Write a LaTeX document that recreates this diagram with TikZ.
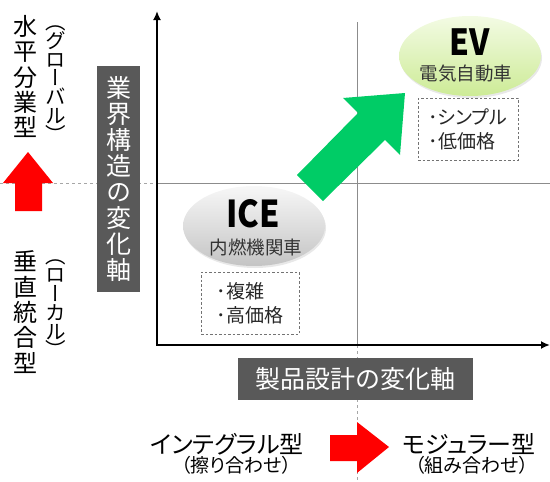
\documentclass[tikz,border=0pt]{standalone}
\usepackage{fontspec}
\setmainfont{Noto Sans CJK JP}
\newfontfamily\vertfont[RawFeature=+vert]{Noto Sans CJK JP}
\newfontfamily\propfont[RawFeature=+palt]{Noto Sans CJK JP}
\newfontfamily\titlefont[FakeStretch=0.88]{Noto Sans CJK JP}
\usetikzlibrary{shapes.geometric,shadows,arrows.meta}
\definecolor{boxgray}{HTML}{595959}
\definecolor{shiftred}{HTML}{FF0000}
\definecolor{shiftgreen}{HTML}{00CC66}
\definecolor{icetop}{HTML}{F7F7F7}
\definecolor{icebot}{HTML}{C4C4C4}
\definecolor{evtop}{HTML}{F3FBE4}
\definecolor{evbot}{HTML}{CDEB96}
\begin{document}
\begin{tikzpicture}[x=1pt,y=-1pt]
        \tikzstyle{axislabel}=[fill=boxgray,text=white,inner sep=0pt]
        \tikzstyle{model}=[ellipse,minimum width=142pt,minimum height=80pt,inner sep=0pt,
          drop shadow={opacity=0.18,shadow xshift=1pt,shadow yshift=-2pt}]
        \tikzstyle{feature}=[draw=black!55,dash pattern=on 2.5pt off 2pt,line width=0.6pt,
          minimum width=98pt,minimum height=62pt,align=left,text=black!85,
          font=\fontsize{19}{24}\selectfont]
        \tikzstyle{guide}=[draw=black!45,line width=0.7pt]
        \tikzstyle{guidedash}=[draw=black!35,line width=0.7pt,dash pattern=on 3pt off 3pt]
        \tikzstyle{axis}=[draw,line width=1.8pt,{Latex[length=9pt,width=8pt]}-{Latex[length=9pt,width=8pt]}]
        \tikzstyle{vtext}=[inner sep=0pt,align=center]
        \tikzstyle{htext}=[inner sep=0pt,font=\propfont\fontsize{24}{24}\selectfont]
        \tikzstyle{hsub}=[inner sep=0pt,font=\propfont\fontsize{19}{19}\selectfont]
        \useasboundingbox (0,0) rectangle (550,482);

        % guide lines of the quadrants
        \coordinate (vtop) at (357,22);
        \coordinate (vmid) at (357,345);
        \coordinate (vbot) at (357,482);
        \coordinate (hleft) at (0,183);
        \coordinate (hmid) at (157,183);
        \coordinate (hright) at (550,183);
        \path[guide] (vtop) -- (vmid);
        \path[guidedash] (vmid) -- (vbot);
        \path[guide] (hmid) -- (hright);
        \path[guidedash] (hleft) -- (hmid);

        % axes
        \coordinate (origin) at (157,345);
        \coordinate (ytop) at (157,11);
        \coordinate (xend) at (550,345);
        \path[axis] (ytop) -- (origin) -- (xend);

        % axis labels
        \node [axislabel,minimum width=43pt,minimum height=226pt,
          font=\vertfont\fontsize{25}{26}\selectfont,align=center] (structure) at (118.5,179)
          {業\\界\\構\\造\\の\\変\\化\\軸};
        \node [axislabel,minimum width=235pt,minimum height=42pt,
          font=\fontsize{25}{25}\selectfont] (design) at (355.5,379) {製品設計の変化軸};

        % vertical side texts
        \node [vtext,font=\vertfont\fontsize{24}{25.4}\selectfont] (horizontal) at (25,76.5)
          {水\\平\\分\\業\\型};
        \node [vtext,font=\vertfont\fontsize{20.5}{18.8}\selectfont] (global) at (56,84)
          {（\\グ\\ロ\\ー\\バ\\ル\\）};
        \node [vtext,font=\vertfont\fontsize{24}{25.4}\selectfont] (vertical) at (25,312)
          {垂\\直\\統\\合\\型};
        \node [vtext,font=\vertfont\fontsize{20.5}{18.8}\selectfont] (local) at (56,309)
          {（\\ロ\\ー\\カ\\ル\\）};
        \fill[shiftred] (28,152) -- (53,183) -- (42,183) -- (42,211)
          -- (15,211) -- (15,183) -- (3,183) -- cycle;

        % bottom texts
        \node [htext] (integral) at (227,444) {インテグラル型};
        \node [hsub] (integralsub) at (236.5,465) {（擦り合わせ）};
        \node [htext] (modular) at (469,444) {モジュラー型};
        \node [hsub] (modularsub) at (472,465) {（組み合わせ）};
        \fill[shiftred] (389,447) -- (357,473) -- (357,461) -- (330,461)
          -- (330,435) -- (357,435) -- (357,422) -- cycle;

        % big shift arrow
        \fill[shiftgreen] (405,93) -- (400,155) -- (385,140) -- (323,201)
          -- (297,175) -- (358,113) -- (343,98) -- cycle;

        % ICE
        \node [model,top color=icetop,bottom color=icebot] (ice) at (254,226) {};
        \node [inner sep=0pt,anchor=base,font=\titlefont\bfseries\fontsize{37}{37}\selectfont]
          (icename) at (253,227) {ICE};
        \node [inner sep=0pt,text=black!80,font=\fontsize{18.5}{18.5}\selectfont]
          (icesub) at (256,247) {内燃機関車};
        \node [feature] (icefeat) at (250,303) {･複雑\\･高価格};

        % EV
        \node [model,top color=evtop,bottom color=evbot] (ev) at (470,56) {};
        \node [inner sep=0pt,anchor=base,font=\titlefont\bfseries\fontsize{36}{36}\selectfont]
          (evname) at (470,55) {EV};
        \node [inner sep=0pt,text=black!80,font=\fontsize{18.5}{18.5}\selectfont]
          (evsub) at (466,73.5) {電気自動車};
        \node [feature,minimum width=100pt,font=\propfont\fontsize{19}{24}\selectfont]
          (evfeat) at (468,129) {･シンプル\\･低価格};
\end{tikzpicture}
\end{document}
